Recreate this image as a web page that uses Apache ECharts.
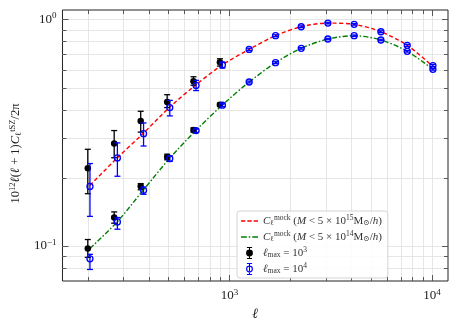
<!DOCTYPE html>
<html>
<head>
<meta charset="utf-8">
<script src="https://cdn.jsdelivr.net/npm/echarts@6/dist/echarts.min.js"></script>
<style>
  html, body { margin: 0; padding: 0; background: #fff; }
  #chart { width: 458px; height: 327px; }
</style>
</head>
<body>
<div id="chart"></div>
<script>
// multipoles
const ellBlack = [200, 270, 365, 493, 665, 898];
const ellBlue = [205, 280, 377, 508, 685, 924, 1252, 1690, 2263, 3064, 4130, 5597, 7550, 10110];
const ellModel = [205, 280, 377, 508, 685, 924, 1252, 1690, 2263, 3064, 4130, 5597, 7550, 10110];

// mock curves
const modelHigh = [0.185, 0.245, 0.315, 0.41, 0.515, 0.63, 0.737, 0.847, 0.928, 0.963, 0.951, 0.882, 0.768, 0.62];
const modelLow = [0.0975, 0.128, 0.177, 0.244, 0.324, 0.419, 0.529, 0.644, 0.745, 0.819, 0.847, 0.811, 0.723, 0.602];

// lmax = 1e3 (black), upper / lower mass cut
const blackHigh = [0.22, 0.283, 0.356, 0.432, 0.533, 0.646];
const blackHighLo = [0.170, 0.245, 0.318, 0.408, 0.512, 0.622];
const blackHighHi = [0.267, 0.323, 0.393, 0.465, 0.558, 0.670];
const blackLow = [0.0974, 0.1334, 0.1834, 0.247, 0.325, 0.42];
const blackLowLo = [0.089, 0.126, 0.177, 0.240, 0.318, 0.413];
const blackLowHi = [0.1067, 0.1413, 0.1884, 0.254, 0.332, 0.427];

// lmax = 1e4 (blue)
const blueHigh = [0.183, 0.2445, 0.313, 0.408, 0.511, 0.629, 0.737, 0.847, 0.928, 0.963, 0.951, 0.882, 0.768, 0.625];
const blueHighLo = [0.135, 0.203, 0.276, 0.375, 0.485, 0.61, 0.728, 0.839, 0.92, 0.955, 0.943, 0.874, 0.76, 0.618];
const blueHighHi = [0.231, 0.285, 0.349, 0.439, 0.538, 0.648, 0.746, 0.855, 0.936, 0.971, 0.959, 0.89, 0.776, 0.632];
const blueLow = [0.0877, 0.1276, 0.176, 0.243, 0.323, 0.418, 0.529, 0.644, 0.745, 0.819, 0.847, 0.811, 0.723, 0.602];
const blueLowLo = [0.0787, 0.1185, 0.169, 0.236, 0.317, 0.412, 0.524, 0.638, 0.739, 0.813, 0.841, 0.805, 0.717, 0.597];
const blueLowHi = [0.0918, 0.1334, 0.182, 0.25, 0.329, 0.424, 0.534, 0.65, 0.751, 0.825, 0.853, 0.817, 0.729, 0.607];

// tick positions
const xMajor = [1000, 10000];
const xMinor = [200, 300, 400, 500, 600, 700, 800, 900, 2000, 3000, 4000, 5000, 6000, 7000, 8000, 9000];
const yMajor = [0.1, 1];
const yMinor = [0.08, 0.09, 0.2, 0.3, 0.4, 0.5, 0.6, 0.7, 0.8, 0.9];

const SERIF = "'Liberation Serif', 'DejaVu Serif', serif";

const zip = (xs, ys) => xs.map((x, i) => [x, ys[i]]);
const zip3 = (xs, lo, hi) => xs.map((x, i) => [x, lo[i], hi[i]]);

// ticks + grid built from the tick arrays: [x, y, kind]
const tickData = [
  ...xMajor.map(v => [v, 0.5, 0]),
  ...xMinor.map(v => [v, 0.5, 1]),
  ...yMajor.map(v => [1000, v, 2]),
  ...yMinor.map(v => [1000, v, 3])
];

function renderTicks(params, api) {
  const cs = params.coordSys;
  const kind = api.value(2);
  const p = api.coord([api.value(0), api.value(1)]);
  const len = kind === 0 || kind === 2 ? 6 : 4;
  const grid = { stroke: "#e0e0e0", lineWidth: 0.8 };
  const tick = { stroke: "#333", lineWidth: 0.8 };
  const x = Math.round(p[0]) + 0.5, y = Math.round(p[1]) + 0.5;
  let kids;
  if (kind < 2) {
    kids = [
      { type: "line", shape: { x1: x, y1: cs.y, x2: x, y2: cs.y + cs.height }, style: grid },
      { type: "line", shape: { x1: x, y1: cs.y + cs.height, x2: x, y2: cs.y + cs.height - len }, style: tick },
      { type: "line", shape: { x1: x, y1: cs.y, x2: x, y2: cs.y + len }, style: tick }
    ];
  } else {
    kids = [
      { type: "line", shape: { x1: cs.x, y1: y, x2: cs.x + cs.width, y2: y }, style: grid },
      { type: "line", shape: { x1: cs.x, y1: y, x2: cs.x + len, y2: y }, style: tick },
      { type: "line", shape: { x1: cs.x + cs.width, y1: y, x2: cs.x + cs.width - len, y2: y }, style: tick }
    ];
  }
  return { type: "group", children: kids };
}

function errorBars(color) {
  return function (params, api) {
    const a = api.coord([api.value(0), api.value(1)]);
    const b = api.coord([api.value(0), api.value(2)]);
    const st = { stroke: color, lineWidth: 1.3 };
    const c = 3;
    return {
      type: "group",
      children: [
        { type: "line", shape: { x1: a[0], y1: a[1], x2: b[0], y2: b[1] }, style: st },
        { type: "line", shape: { x1: a[0] - c, y1: a[1], x2: a[0] + c, y2: a[1] }, style: st },
        { type: "line", shape: { x1: b[0] - c, y1: b[1], x2: b[0] + c, y2: b[1] }, style: st }
      ]
    };
  };
}

const isDecade = v => Math.abs(Math.log10(v) - Math.round(Math.log10(v))) < 1e-6;
const powLabel = v => {
  if (!isDecade(v)) return "";
  const e = Math.round(Math.log10(v));
  return "{b|10}{s|" + (e < 0 ? "\u2212" + (-e) : e) + "}";
};
const labelRich = {
  b: { fontFamily: SERIF, fontSize: 13, color: "#222" },
  s: { fontFamily: SERIF, fontSize: 9, color: "#222", padding: [0, 0, 7, 0] }
};

// legend icons
const iconRed = "path://M0,0 H4.5 V1.6 H0 Z M6.5,0 H11 V1.6 H6.5 Z M13,0 H17.5 V1.6 H13 Z";
const iconGreen = "path://M0,0 H6 V1.6 H0 Z M8,0 H9.6 V1.6 H8 Z M11.6,0 H17.6 V1.6 H11.6 Z";
const iconDot = "path://M4.4,0 H5.6 V14 H4.4 Z M2,0 H8 V1.2 H2 Z M2,12.8 H8 V14 H2 Z M1,7 A4,4 0 1,1 9,7 A4,4 0 1,1 1,7 Z";
const iconRing = "path://M4.4,0 H5.6 V3.1 H4.4 Z M4.4,4.2 H5.6 V9.8 H4.4 Z M4.4,10.9 H5.6 V14 H4.4 Z " +
  "M2,0 H8 V1.2 H2 Z M2,12.8 H8 V14 H2 Z " +
  "M1,7 A4,4 0 0,1 9,7 L7.7,7 A2.7,2.7 0 0,0 2.3,7 Z " +
  "M1,7 A4,4 0 0,0 9,7 L7.7,7 A2.7,2.7 0 0,1 2.3,7 Z";

const legendText = {
  mockHigh: "{i|C}{sub|\u2113}{sup|mock} {r|(}{i|M}{r| < 5 \u00d7 10}{sup|15}{r|M}{sub|\u2299}{r|/}{i|h}{r|)}",
  mockLow: "{i|C}{sub|\u2113}{sup|mock} {r|(}{i|M}{r| < 5 \u00d7 10}{sup|14}{r|M}{sub|\u2299}{r|/}{i|h}{r|)}",
  lmax3: "{i|\u2113}{sub|max}{r| = 10}{sup|3}",
  lmax4: "{i|\u2113}{sub|max}{r| = 10}{sup|4}"
};

const chart = echarts.init(document.getElementById("chart"), null, { renderer: "canvas" });

chart.setOption({
  animation: false,
  backgroundColor: "#fff",
  grid: {
    left: 58, right: 10, top: 10, bottom: 46,
    show: true, borderColor: "#222", borderWidth: 1, backgroundColor: "transparent"
  },
  legend: {
    orient: "vertical",
    left: 237, top: 211,
    padding: [3, 6, 3, 4],
    itemWidth: 17, itemHeight: 12, itemGap: 3,
    backgroundColor: "rgba(255,255,255,0.85)",
    borderColor: "#d4d4d4", borderWidth: 1, borderRadius: 3,
    data: [
      { name: "mockHigh", icon: iconRed },
      { name: "mockLow", icon: iconGreen },
      { name: "lmax3", icon: iconDot },
      { name: "lmax4", icon: iconRing }
    ],
    formatter: name => legendText[name],
    textStyle: {
      fontFamily: SERIF, fontSize: 11, color: "#333",
      rich: {
        i: { fontFamily: SERIF, fontStyle: "italic", fontSize: 11, color: "#333" },
        r: { fontFamily: SERIF, fontSize: 11, color: "#333" },
        sup: { fontFamily: SERIF, fontSize: 7.5, color: "#333", padding: [0, 0, 6, 0] },
        sub: { fontFamily: SERIF, fontSize: 7.5, color: "#333", padding: [4, 0, 0, 0] }
      }
    }
  },
  xAxis: {
    type: "log", logBase: 10, min: 150, max: 12000,
    name: "\u2113", nameLocation: "middle", nameGap: 22,
    nameTextStyle: { fontFamily: SERIF, fontStyle: "italic", fontSize: 14, color: "#222" },
    axisLine: { show: false },
    axisTick: { show: false },
    splitLine: { show: false },
    axisLabel: { margin: 7, formatter: powLabel, rich: labelRich, showMinLabel: false, showMaxLabel: false }
  },
  yAxis: {
    type: "log", logBase: 10, min: 0.07, max: 1.1,
    name: "{r|10}{s|12}{i|\u2113}{r|(}{i|\u2113}{r| + 1)}{i|C}{sb|\u2113}{s|tSZ}{r|/2\u03c0}",
    nameLocation: "middle", nameGap: 34, nameRotate: 90,
    nameTextStyle: {
      padding: [0, 16, 0, 0],
      rich: {
        r: { fontFamily: SERIF, fontSize: 12.5, color: "#222" },
        i: { fontFamily: SERIF, fontStyle: "italic", fontSize: 12.5, color: "#222" },
        s: { fontFamily: SERIF, fontSize: 8.5, color: "#222", padding: [0, 0, 7, 0] },
        sb: { fontFamily: SERIF, fontSize: 8.5, color: "#222", padding: [5, 0, 0, 0] }
      }
    },
    axisLine: { show: false },
    axisTick: { show: false },
    splitLine: { show: false },
    axisLabel: { margin: 6, formatter: powLabel, rich: labelRich, showMinLabel: false, showMaxLabel: false }
  },
  series: [
    {
      type: "custom", name: "ticks", silent: true, z: 1,
      renderItem: renderTicks, data: tickData
    },
    {
      type: "line", name: "mockHigh", data: zip(ellModel, modelHigh), smooth: 0.3,
      symbol: "none", z: 3,
      lineStyle: { color: "#ff0000", width: 1.4, type: [4, 2.5] },
      itemStyle: { color: "#ff0000" }
    },
    {
      type: "line", name: "mockLow", data: zip(ellModel, modelLow), smooth: 0.3,
      symbol: "none", z: 3,
      lineStyle: { color: "#008000", width: 1.4, type: [5, 2, 1.5, 2] },
      itemStyle: { color: "#008000" }
    },
    {
      type: "custom", name: "lmax3", z: 4, renderItem: errorBars("#000"),
      itemStyle: { color: "#000" },
      data: zip3(ellBlack, blackHighLo, blackHighHi).concat(zip3(ellBlack, blackLowLo, blackLowHi))
    },
    {
      type: "scatter", name: "lmax3", z: 4, symbol: "circle", symbolSize: 6.5,
      itemStyle: { color: "#000", opacity: 1 },
      data: zip(ellBlack, blackHigh).concat(zip(ellBlack, blackLow))
    },
    {
      type: "custom", name: "lmax4", z: 5, renderItem: errorBars("#0000ff"),
      itemStyle: { color: "#0000ff" },
      data: zip3(ellBlue, blueHighLo, blueHighHi).concat(zip3(ellBlue, blueLowLo, blueLowHi))
    },
    {
      type: "scatter", name: "lmax4", z: 5, symbol: "circle", symbolSize: 6,
      itemStyle: { color: "rgba(0,0,0,0)", borderColor: "#0000ff", borderWidth: 1.3, opacity: 1 },
      data: zip(ellBlue, blueHigh).concat(zip(ellBlue, blueLow))
    }
  ]
});
</script>
</body>
</html>
